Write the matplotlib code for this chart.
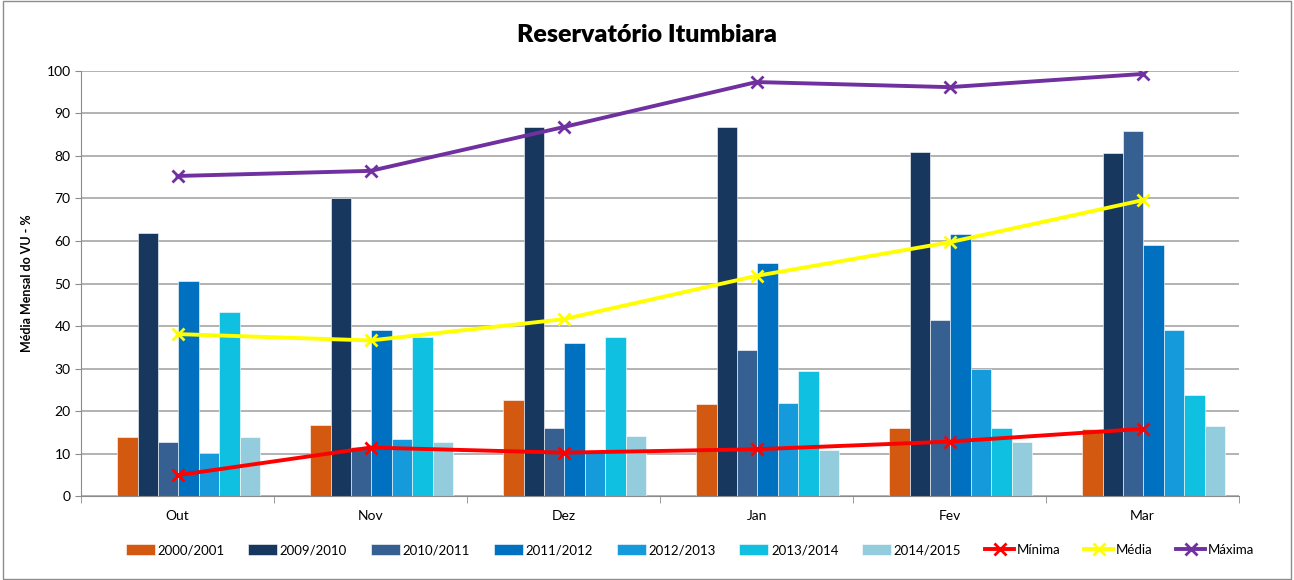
import matplotlib.pyplot as plt
import numpy as np
from matplotlib.patches import Rectangle

plt.rcParams['font.family'] = ['Lato', 'DejaVu Sans']

months = ['Out', 'Nov', 'Dez', 'Jan', 'Fev', 'Mar']
seasons = ['2000/2001', '2009/2010', '2010/2011', '2011/2012', '2012/2013', '2013/2014', '2014/2015']
v_2000 = [13.8, 16.7, 22.6, 21.6, 15.9, 15.7]
v_2009 = [61.9, 70.1, 86.8, 86.8, 81.0, 80.7]
v_2010 = [12.6, 11.5, 15.9, 34.4, 41.4, 85.8]
v_2011 = [50.6, 39.0, 36.0, 54.8, 61.7, 59.0]
v_2012 = [10.1, 13.5, 10.4, 22.0, 29.9, 39.0]
v_2013 = [43.2, 37.3, 37.3, 29.4, 15.9, 23.7]
v_2014 = [13.8, 12.7, 14.1, 10.8, 12.7, 16.5]
minima = [4.9, 11.4, 10.2, 11.0, 12.8, 15.8]
media = [38.1, 36.6, 41.6, 51.8, 59.7, 69.6]
maxima = [75.3, 76.5, 86.8, 97.4, 96.2, 99.3]

bar_colors = ['#D2590F', '#17375E', '#366092', '#0070C0', '#159ADC', '#0FC0E1', '#93CDDD']
bar_data = [v_2000, v_2009, v_2010, v_2011, v_2012, v_2013, v_2014]

fig = plt.figure(figsize=(12.94, 5.80), dpi=100)
fig.patches.append(Rectangle((0.002, 0.002), 0.996, 0.996, transform=fig.transFigure,
                             fill=False, edgecolor='#8C8C8C', linewidth=1))
ax = fig.add_axes([0.0626, 0.1448, 0.8949, 0.7328])

x = np.arange(len(months))
w = 0.106
start = -0.313
handles = []
for i, (vals, col, lab) in enumerate(zip(bar_data, bar_colors, seasons)):
    b = ax.bar(x + start + w * (i + 0.5), vals, width=w, color=col, label=lab,
               edgecolor='white', linewidth=0.4, zorder=2)
    handles.append(b)

for vals, col, lab in [(minima, '#FF0000', 'Mínima'), (media, '#FFFF00', 'Média'),
                       (maxima, '#7030A0', 'Máxima')]:
    ln, = ax.plot(x, vals, color=col, lw=2.8, marker='x', ms=8, mew=2, label=lab, zorder=3)
    handles.append(ln)

ax.set_xlim(-0.5, 5.5)
ax.set_ylim(0, 100)
ax.set_yticks(range(0, 101, 10))
ax.set_xticks(x)
ax.set_xticklabels(months)
ax.set_xticks(np.arange(-0.5, 6.0, 1), minor=True)
ax.tick_params(axis='x', which='major', length=0, pad=10, labelsize=10)
ax.tick_params(axis='x', which='minor', length=5, color='#8C8C8C')
ax.tick_params(axis='y', length=4, color='#8C8C8C', labelsize=10)
ax.grid(axis='y', color='#A6A6A6', linewidth=1.2, zorder=0)
ax.set_axisbelow(True)
for s in ['top', 'right']:
    ax.spines[s].set_visible(False)
ax.spines['left'].set_color('#8C8C8C')
ax.spines['bottom'].set_color('#8C8C8C')

ax.set_ylabel('Média Mensal do VU - %', fontsize=9, fontweight='bold', labelpad=10)
fig.text(0.5, 0.94, 'Reservatório Itumbiara', ha='center', va='center', fontsize=18, fontweight='heavy')

ax.legend(handles=handles, loc='center', bbox_to_anchor=(0.526, -0.127), ncol=10, frameon=False,
          fontsize=9.5, handlelength=2.2, handleheight=0.9, columnspacing=1.8, handletextpad=0.2)

plt.savefig('out.png', dpi=100)
